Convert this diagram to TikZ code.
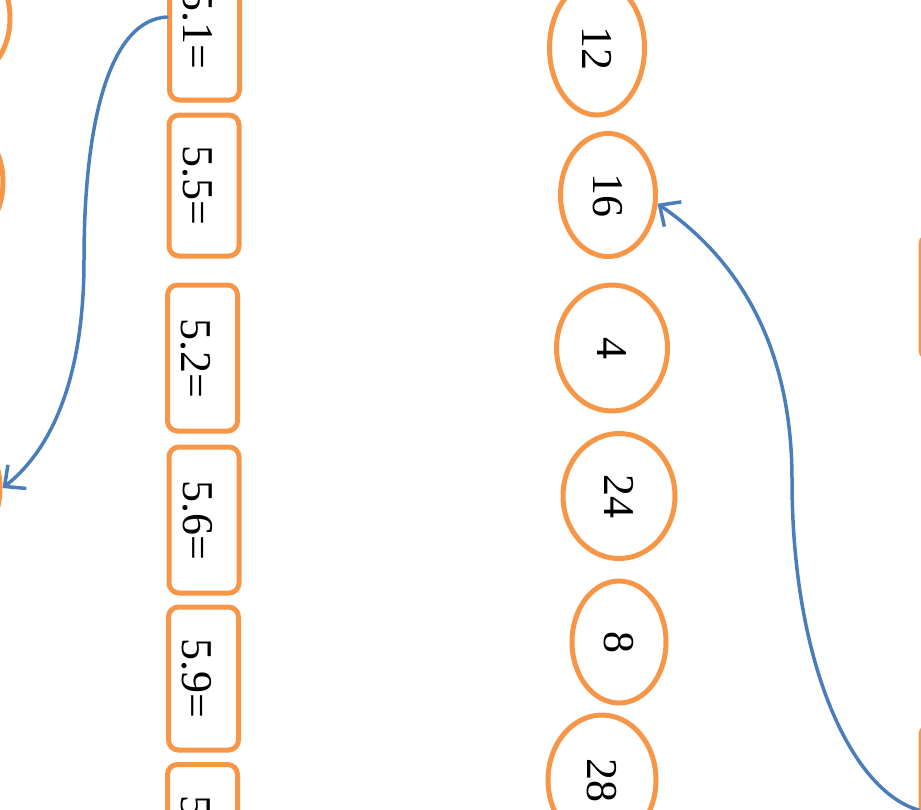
\documentclass[tikz,border=0pt]{standalone}
\usepackage{fontspec}
\setmainfont{Liberation Serif}
\usepackage{tikz}
\usetikzlibrary{shapes.geometric,arrows.meta}

\definecolor{boxorange}{HTML}{F79646}
\definecolor{linkblue}{HTML}{4A7EBB}

\begin{document}
\begin{tikzpicture}[x=1pt,y=1pt,
    eqbox/.style={draw=boxorange,line width=5pt,rounded corners=10pt,rotate=-90,
      minimum width=142pt,minimum height=70pt,text height=42pt,text depth=0pt,
      font=\fontsize{44}{50}\selectfont},
    numoval/.style={draw=boxorange,line width=5pt,ellipse,rotate=-90,inner sep=0pt,
      font=\fontsize{44}{50}\selectfont},
    link/.style={draw=linkblue,line width=3.5pt,line cap=round,line join=round,
      -{Straight Barb[length=16pt,width=30pt]}}]

        \useasboundingbox (0,0) rectangle (921,-809);
        \clip (0,0) rectangle (921,-809);

        \foreach \n/\x/\y/\h/\t in {1/204.5/29.5/141/5.1=, 2/204/185.5/141/5.5=, 3/202.5/358/146/5.2=,
                                    4/204/520/146/5.6=, 5/203.5/678.5/143/5.9=, 6/202.5/835/141/5\phantom{.9=}}
        \node[eqbox,minimum width=\h pt] (b\n) at (\x,-\y) {\t};

        \foreach \n/\x/\y/\w/\h in {12/597/48/134/95, 16/608/195/123/95, 4/612/348/126/111,
                                    24/619/496/125/112, 8/619/642/122/94, 28/602/780/130/108}
        \node[numoval,minimum width=\w pt,minimum height=\h pt] (e\n) at (\x,-\y) {\n};

        \foreach \n/\x/\y in {1/-38/18, 2/-45/182, 3/-48/488}
        \node[numoval,minimum width=124pt,minimum height=96pt] (l\n) at (\x,-\y) {};

        \node[eqbox,minimum width=125pt] (r1) at (956,-297) {};
        \node[eqbox,minimum width=170pt] (r2) at (956,-810) {};

        \coordinate (m1) at (84,-260);
        \coordinate (m2) at (792,-480);

        \draw[link] ([yshift=12.5pt]b1.south) .. controls (110,-20) and (84,-120) .. (m1)
            .. controls (84,-390) and (45,-455) .. (l3.north);
        \draw[link] (r2.south) .. controls (850,-790) and (792,-660) .. (m2)
            .. controls (792,-330) and (725,-250) .. (e16.80);
    \end{tikzpicture}
\end{document}
